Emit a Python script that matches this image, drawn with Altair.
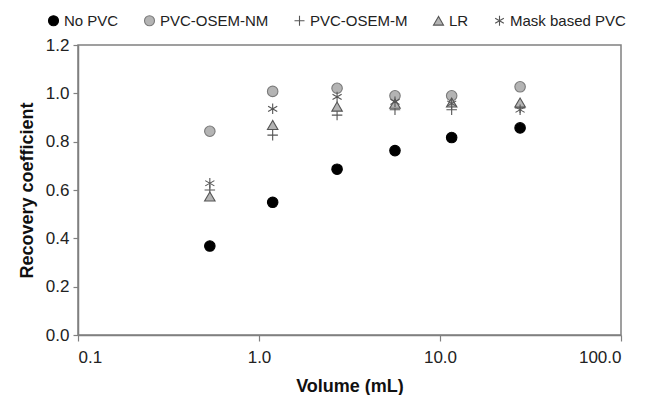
import altair as alt
import pandas as pd

volumes = [0.535, 1.19, 2.70, 5.64, 11.6, 27.7]
series_names = ["No PVC", "PVC-OSEM-NM", "PVC-OSEM-M", "LR", "Mask based PVC"]
no_pvc = [0.368, 0.549, 0.686, 0.763, 0.817, 0.857]
osem_nm = [0.843, 1.008, 1.021, 0.990, 0.990, 1.027]
osem_m = [0.600, 0.827, 0.910, 0.932, 0.932, 0.940]
lr = [0.573, 0.869, 0.945, 0.957, 0.962, 0.962]
mask = [0.628, 0.936, 0.985, 0.965, 0.958, 0.932]

rows = []
for name, vals in zip(series_names, [no_pvc, osem_nm, osem_m, lr, mask]):
    for v, r in zip(volumes, vals):
        rows.append({"series": name, "volume": v, "rc": r})
df = pd.DataFrame(rows)

shapes = ["circle", "circle", "M-1,0L1,0M0,-1L0,1", "triangle-up",
          "M0,-1L0,1M-0.87,-0.5L0.87,0.5M-0.87,0.5L0.87,-0.5"]
fills = ["#000000", "#b4b4b4", "transparent", "#b4b4b4", "transparent"]
strokes = ["#000000", "#7a7a7a", "#555555", "#555555", "#555555"]

chart = alt.Chart(df).mark_point(filled=False, fillOpacity=1, opacity=1, size=110, strokeWidth=1.1).encode(
    x=alt.X("volume:Q", scale=alt.Scale(type="log", domain=[0.1, 100]),
            axis=alt.Axis(values=[0.1, 1, 10, 100], format=".1f", title="Volume (mL)")),
    y=alt.Y("rc:Q", scale=alt.Scale(domain=[0, 1.2]),
            axis=alt.Axis(values=[0, 0.2, 0.4, 0.6, 0.8, 1.0, 1.2], format=".1f",
                          title="Recovery coefficient")),
    shape=alt.Shape("series:N", scale=alt.Scale(domain=series_names, range=shapes),
                    legend=alt.Legend(title=None)),
    fill=alt.Fill("series:N", scale=alt.Scale(domain=series_names, range=fills),
                  legend=alt.Legend(title=None)),
    stroke=alt.Stroke("series:N", scale=alt.Scale(domain=series_names, range=strokes),
                      legend=alt.Legend(title=None)),
).properties(
    width=543, height=290,
    autosize=alt.AutoSizeParams(type="none"),
    padding={"left": 70, "top": 37, "right": 18, "bottom": 60},
).configure_view(
    stroke="#808080", strokeWidth=1.5
).configure_axis(
    grid=False, domainColor="#808080", domainWidth=1.5, tickColor="#808080",
    tickWidth=1.2, tickSize=6, labelFont="Liberation Sans", labelFontSize=17,
    labelColor="#222222", titleFont="Liberation Sans", titleFontSize=18,
    titleFontWeight="bold", titleColor="#111111", labelPadding=3
).configure_axisX(
    titlePadding=12, labelPadding=8
).configure_axisY(
    titlePadding=9, tickSize=5, labelPadding=4
).configure_legend(
    orient="none", legendX=-32, legendY=-32, direction="horizontal",
    labelFont="Liberation Sans", labelFontSize=15, labelColor="#222222",
    symbolSize=100, columnPadding=23, symbolStrokeWidth=1.1, labelOffset=3,
    symbolOpacity=1
)

chart.save("out.html", embed_options={"renderer": "svg", "actions": False})
